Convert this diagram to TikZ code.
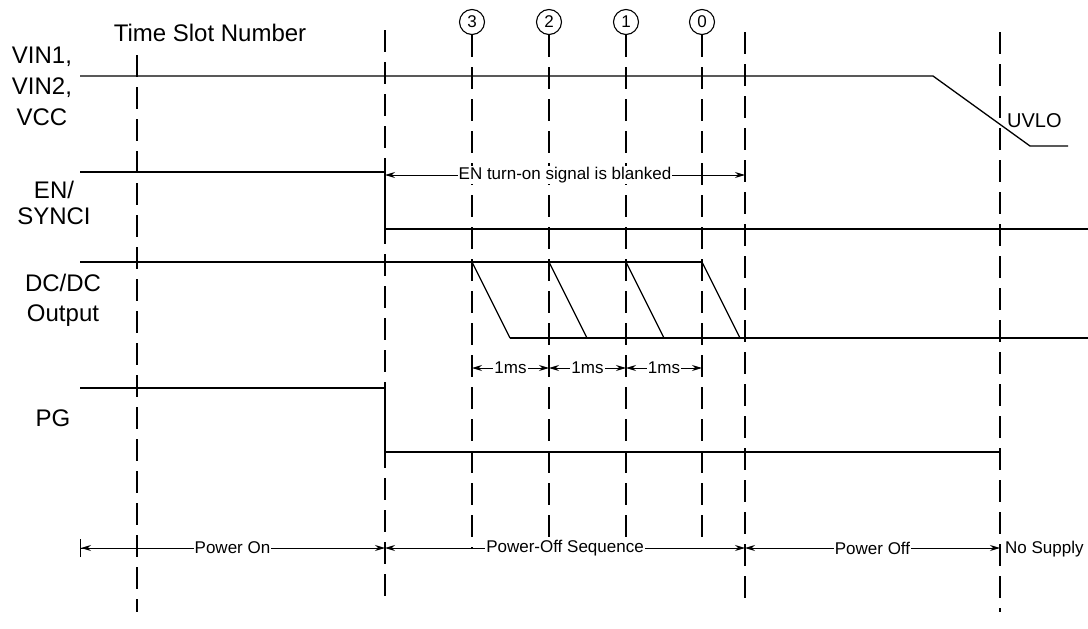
\documentclass[tikz,border=0pt]{standalone}
\usepackage{fontspec}
\setmainfont{Liberation Sans}
\usetikzlibrary{arrows.meta}
\begin{document}
\begin{tikzpicture}[x=1pt,y=-1pt,
  sig/.style={line width=1.3pt},
  gridline/.style={line width=1.3pt, dash pattern=on 22pt off 10pt},
  dim/.style={line width=1pt,{Stealth[length=10pt,width=6pt]}-{Stealth[length=10pt,width=6pt]}},
  dimbar/.style={line width=1pt,{Bar[width=18pt]Stealth[length=10pt,width=6pt]}-{Stealth[length=10pt,width=6pt]}},
  big/.style={font=\fontsize{24}{31}\selectfont, align=center, inner sep=0pt},
  small/.style={font=\fontsize{17}{19}\selectfont, fill=white, inner sep=1pt},
  slotc/.style={draw, circle, line width=1.1pt, minimum size=25pt, inner sep=0pt, font=\fontsize{17}{19}\selectfont}]
\useasboundingbox (0,0) rectangle (1088,629);

% slot circles
\node[slotc] (s3) at (472,22) {3};
\node[slotc] (s2) at (549,22) {2};
\node[slotc] (s1) at (626,22) {1};
\node[slotc] (s0) at (702,22) {0};

% grid coordinates
\coordinate (g1t) at (137,55);  \coordinate (g1b) at (137,612);
\coordinate (g2t) at (385,30);  \coordinate (g2b) at (385,605);
\coordinate (g3b) at (472,548);
\coordinate (g4b) at (549,537);
\coordinate (g5b) at (626,537);
\coordinate (g6b) at (702,537);
\coordinate (g7t) at (745,32);  \coordinate (g7b) at (745,605);
\coordinate (g8t) at (1000,32); \coordinate (g8b) at (1000,612);

\draw[gridline] (g1t) -- (g1b);
\draw[gridline] (g2t) -- (g2b);
\draw[gridline] (s3.south) -- (g3b);
\draw[gridline] (s2.south) -- (g4b);
\draw[gridline] (s1.south) -- (g5b);
\draw[gridline] (s0.south) -- (g6b);
\draw[gridline] (g7t) -- (g7b);
\draw[gridline] (g8t) -- (g8b);

% labels
\node[big] (tsn) at (210,33) {Time Slot Number};
\node[big] (lvin) at (42,86) {VIN1,\\VIN2,\\VCC};
\node[big, font=\fontsize{24}{26}\selectfont] (len) at (54,203) {EN/\\SYNCI};
\node[big, font=\fontsize{24}{30}\selectfont] (ldc) at (63,300) {DC/DC\\Output};
\node[big] (lpg) at (53,418) {PG};
\node[font=\fontsize{20}{22}\selectfont, anchor=west, inner sep=0pt] (uvlo) at (1007,121) {UVLO};

% VIN
\coordinate (v0) at (80,76); \coordinate (v1) at (933,76);
\coordinate (v2) at (1030,146); \coordinate (v3) at (1068,146);
\draw[sig] (v0) -- (v1) -- (v2) -- (v3);

% EN
\coordinate (e0) at (80,172); \coordinate (e1) at (385,172);
\coordinate (e2) at (385,229); \coordinate (e3) at (1088,229);
\draw[sig] (e0) -- (e1) -- (e2) -- (e3);

% DC/DC
\coordinate (d0) at (80,262);
\coordinate (h3) at (472,262); \coordinate (l3) at (510,338);
\coordinate (h2) at (549,262); \coordinate (l2) at (587,338);
\coordinate (h1) at (626,262); \coordinate (l1) at (664,338);
\coordinate (h0) at (702,262); \coordinate (l0) at (740,338);
\coordinate (dE) at (1088,338);
\draw[sig] (d0) -- (h0);
\draw[sig] (h3) -- (l3);
\draw[sig] (h2) -- (l2);
\draw[sig] (h1) -- (l1);
\draw[sig] (h0) -- (l0);
\draw[sig] (l3) -- (dE);

% PG
\coordinate (p0) at (80,388); \coordinate (p1) at (385,388);
\coordinate (p2) at (385,452); \coordinate (p3) at (1000,452);
\draw[sig] (p0) -- (p1) -- (p2) -- (p3);

% EN blanking dimension
\coordinate (ba) at (385,175); \coordinate (bb) at (745,175);
\draw[dim] (ba) -- node[small] (tb) {EN turn-on signal is blanked} (bb);

% 1ms dimensions
\coordinate (m3) at (472,368); \coordinate (m2) at (549,368);
\coordinate (m1) at (626,368); \coordinate (m0) at (702,368);
\draw[dim] (m3) -- node[small] (t1) {1ms} (m2);
\draw[dim] (m2) -- node[small] (t2) {1ms} (m1);
\draw[dim] (m1) -- node[small] (t3) {1ms} (m0);

% bottom phases
\coordinate (q0) at (80,548); \coordinate (q1) at (385,548);
\coordinate (q2) at (745,548); \coordinate (q3) at (1000,548);
\draw[dimbar] (q0) -- node[small] (tpo) {Power On} (q1);
\draw[dim] (q1) -- node[small] (tps) {Power-Off Sequence} (q2);
\draw[dim] (q2) -- node[small] (tpf) {Power Off} (q3);
\node[font=\fontsize{17}{19}\selectfont, anchor=west, inner sep=0pt] (tns) at (1005,549) {No Supply};
\end{tikzpicture}
\end{document}
